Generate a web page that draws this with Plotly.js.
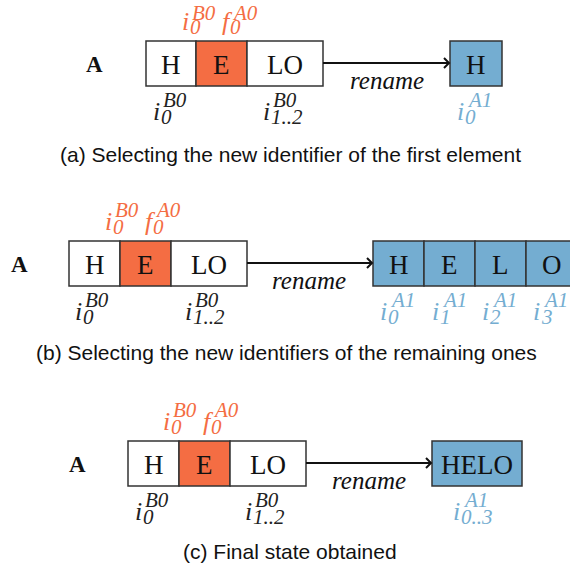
<!DOCTYPE html>
<html>
<head>
<meta charset="utf-8">
<script src="https://cdn.plot.ly/plotly-3.0.1.min.js"></script>
<style>html,body{margin:0;padding:0;background:#fff;}#chart{width:570px;height:571px;}</style>
</head>
<body>
<div id="chart"></div>
<script>
// ---- data ----
const captions = [
  "(a) Selecting the new identifier of the first element",
  "(b) Selecting the new identifiers of the remaining ones",
  "(c) Final state obtained"
];
const sequenceName = "A";
const operation = "rename";
const sourceCells = ["H", "E", "LO"];
const highlightedCell = 1;
const targetCellsA = ["H"];
const targetCellsB = ["H", "E", "L", "O"];
const targetCellsC = ["HELO"];
const topLabelBase = ["i", "f"];
const topLabelSup = ["B0", "A0"];
const topLabelSub = ["0", "0"];
const sourceLabelCell = [0, 2];
const sourceLabelSup = ["B0", "B0"];
const sourceLabelSub = ["0", "1..2"];
const targetLabelSup = "A1";
const targetLabelSubA = ["0"];
const targetLabelSubB = ["0", "1", "2", "3"];
const targetLabelSubC = ["0..3"];

// ---- styles / geometry ----
const ORANGE = "#F46D43", BLUE = "#74ADD1", EDGE = "#333333", INK = "#111111";
const SERIF = "Liberation Serif, Times New Roman, serif";
const SANS = "Liberation Sans, Arial, Helvetica, sans-serif";

const panels = [
  {top: 41, bottom: 86, src: [146, 196, 247, 323], tgt: [450, 502], cells: targetCellsA,
   subs: targetLabelSubA, Ax: 94, topX: [182, 222], srcLabX: [153, 263], tgtLabX: [457],
   renameX: 387, capX: 290, capY: 154},
  {top: 241, bottom: 286, src: [69, 120, 171, 247], tgt: [373, 424, 475, 526, 577], cells: targetCellsB,
   subs: targetLabelSubB, Ax: 19, topX: [105, 145], srcLabX: [75, 185], tgtLabX: [380, 432, 482, 533],
   renameX: 309, capX: 286, capY: 352},
  {top: 441, bottom: 486, src: [128, 179, 230, 306], tgt: [432, 522], cells: targetCellsC,
   subs: targetLabelSubC, Ax: 77, topX: [163, 203], srcLabX: [135, 245], tgtLabX: [453],
   renameX: 369, capX: 290, capY: 551}
];

const shapes = [];
const annotations = [];

function txt(x, y, text, size, family, color, xanchor, yanchor) {
  annotations.push({x: x, y: y, xref: "x", yref: "y", text: text, showarrow: false,
    xanchor: xanchor || "center", yanchor: yanchor || "middle",
    font: {size: size, family: family, color: color}, borderpad: 0});
}

function mathLabel(xl, yc, base, sup, sub, color) {
  txt(xl - 1, yc, "<i>" + base + "</i>", 26, SERIF, color, "left", "middle");
  const supY = yc - 11;
  if (supY < 14) {
    // keep the text box inside the page near the top edge
    txt(xl + 9, 0, "<i>" + sup + "</i>", 21, SERIF, color, "left", "top");
  } else {
    txt(xl + 9, supY, "<i>" + sup + "</i>", 21, SERIF, color, "left", "middle");
  }
  txt(xl + 7, yc + 6, "<i>" + sub + "</i>", 21, SERIF, color, "left", "middle");
}

function cellRow(xs, labels, top, bottom, fillFn) {
  for (let k = 0; k < labels.length; k++) {
    shapes.push({type: "rect", xref: "x", yref: "y", x0: xs[k], x1: xs[k + 1], y0: top, y1: bottom,
      fillcolor: fillFn(k), line: {color: EDGE, width: 1.5}, layer: "above"});
    txt((xs[k] + xs[k + 1]) / 2, (top + bottom) / 2 + 1, labels[k], 27, SERIF, INK);
  }
}

panels.forEach((p, i) => {
  // sequence name
  txt(p.Ax, p.top + 23, "<b>" + sequenceName + "</b>", 23, SERIF, INK);
  // source row
  cellRow(p.src, sourceCells, p.top, p.bottom, k => k === highlightedCell ? ORANGE : "#ffffff");
  // target row
  cellRow(p.tgt, p.cells, p.top, p.bottom, k => BLUE);
  // arrow
  const ay = p.top + 22;
  const x0 = p.src[p.src.length - 1], x1 = p.tgt[0] - 1;
  shapes.push({type: "line", xref: "x", yref: "y", x0: x0, x1: x1, y0: ay, y1: ay,
    line: {color: INK, width: 2}});
  shapes.push({type: "path", xref: "x", yref: "y",
    path: `M ${x1 - 5},${ay - 5} L ${x1},${ay} L ${x1 - 5},${ay + 5}`,
    line: {color: INK, width: 2}});
  txt(p.renameX, p.top + 39, "<i>" + operation + "</i>", 25, SERIF, INK);
  // top labels (orange)
  for (let k = 0; k < topLabelBase.length; k++) {
    mathLabel(p.topX[k], p.top - 20, topLabelBase[k], topLabelSup[k], topLabelSub[k], ORANGE);
  }
  // source labels
  for (let k = 0; k < sourceLabelCell.length; k++) {
    mathLabel(p.srcLabX[k], p.bottom + 25, "i", sourceLabelSup[k], sourceLabelSub[k], "#222222");
  }
  // target labels
  for (let k = 0; k < p.subs.length; k++) {
    mathLabel(p.tgtLabX[k], p.bottom + 25, "i", targetLabelSup, p.subs[k], BLUE);
  }
  // caption
  txt(p.capX, p.capY, captions[i], 21, SANS, INK);
});

const layout = {
  width: 570, height: 571,
  margin: {l: 0, r: 0, t: 0, b: 0},
  paper_bgcolor: "#ffffff", plot_bgcolor: "#ffffff",
  xaxis: {range: [0, 570], visible: false, fixedrange: true},
  yaxis: {range: [571, 0], visible: false, fixedrange: true},
  shapes: shapes, annotations: annotations, showlegend: false
};

Plotly.newPlot("chart", [{x: [], y: [], type: "scatter"}], layout, {staticPlot: true, displayModeBar: false});
</script>
</body>
</html>
